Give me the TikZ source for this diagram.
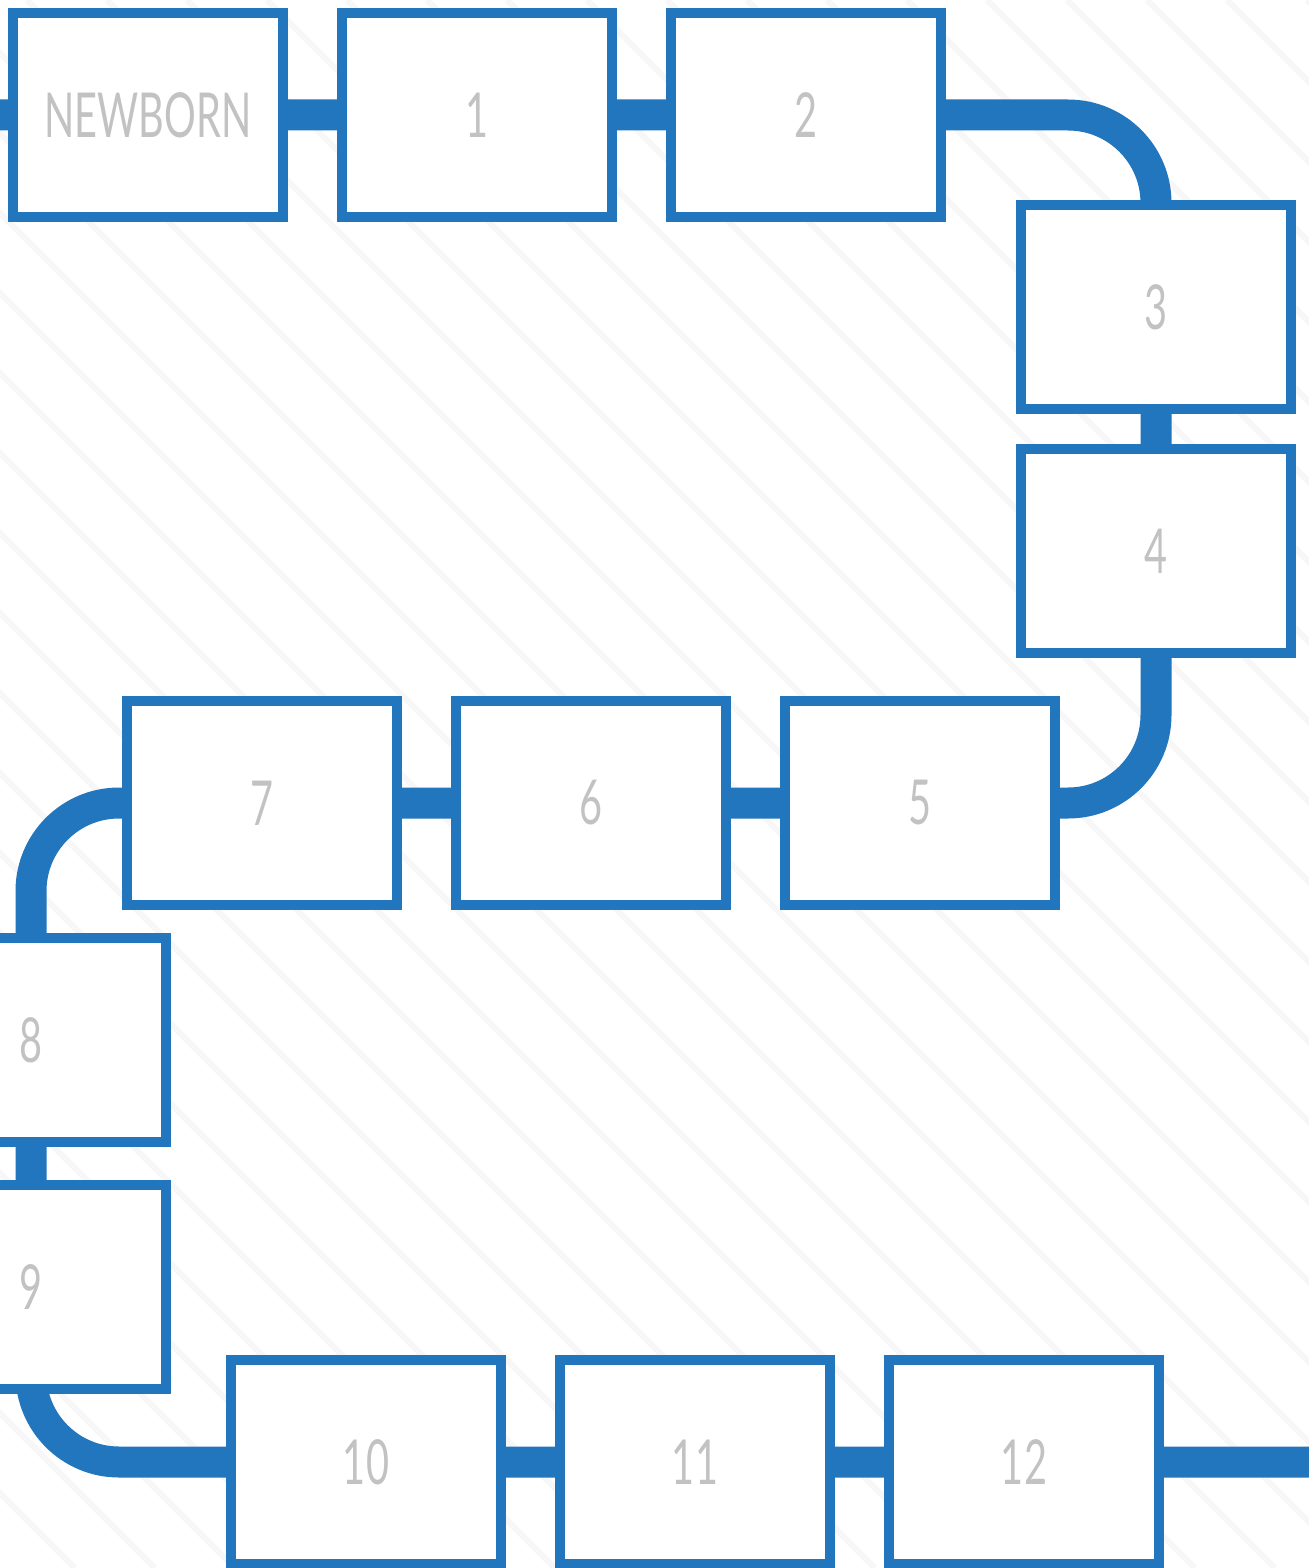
\documentclass[tikz,border=0pt]{standalone}
\usepackage{fontspec}
\newfontfamily\handfont[FakeStretch=0.64]{Lato}
\usetikzlibrary{positioning,backgrounds}
\definecolor{pathblue}{HTML}{2176BD}
\definecolor{labelgray}{HTML}{C2C2C2}
\definecolor{stripegray}{HTML}{F7F7F7}

\begin{document}
\begin{tikzpicture}[x=0.5pt,y=-0.5pt,
  box/.style={draw=pathblue,line width=5pt,fill=white,minimum width=135pt,minimum height=102pt,inner sep=0pt,
    font=\handfont\fontsize{31}{31}\selectfont,text=labelgray},
  link/.style={draw=pathblue,line width=15.5pt,rounded corners=44pt},
  stripe/.style={draw=stripegray,line width=3pt},
  node distance=24.5pt]
\useasboundingbox (0,0) rectangle (1309,1568);
\clip (0,0) rectangle (1309,1568);
\node[box] (newborn) at (148,115) {NEWBORN};
\node[box,right=of newborn] (age1) {1};
\node[box,right=of age1] (age2) {2};
\node[box] (age3) at (1156,307) {3};
\node[box,below=15pt of age3] (age4) {4};
\node[box] (age5) at (920,803) {5};
\node[box,left=of age5] (age6) {6};
\node[box,left=of age6] (age7) {7};
\node[box] (age8) at (31,1040) {8};
\node[box,below=16.5pt of age8] (age9) {9};
\node[box] (age10) at (366,1462) {10};
\node[box,right=of age10] (age11) {11};
\node[box,right=of age11] (age12) {12};
\coordinate (entry) at (0,115);
\coordinate (exit) at (1309,1462);
\begin{scope}[on background layer]
\clip (0,0) rectangle (1309,1568);
\fill[white] (0,0) rectangle (1309,1568);
\foreach \k in {-20,...,17}{\draw[stripe] ({27+80*\k},0)--++(1568,1568);}
\draw[link] (entry) -- (newborn) -- (age1) -- (age2) -| (age3.center) -- (age4) |- (age5) -- (age6) -- (age7)
  -| (age8.center) -- (age9.center) |- (age10) -- (age11) -- (age12) -- (exit);
\end{scope}
\end{tikzpicture}
\end{document}
